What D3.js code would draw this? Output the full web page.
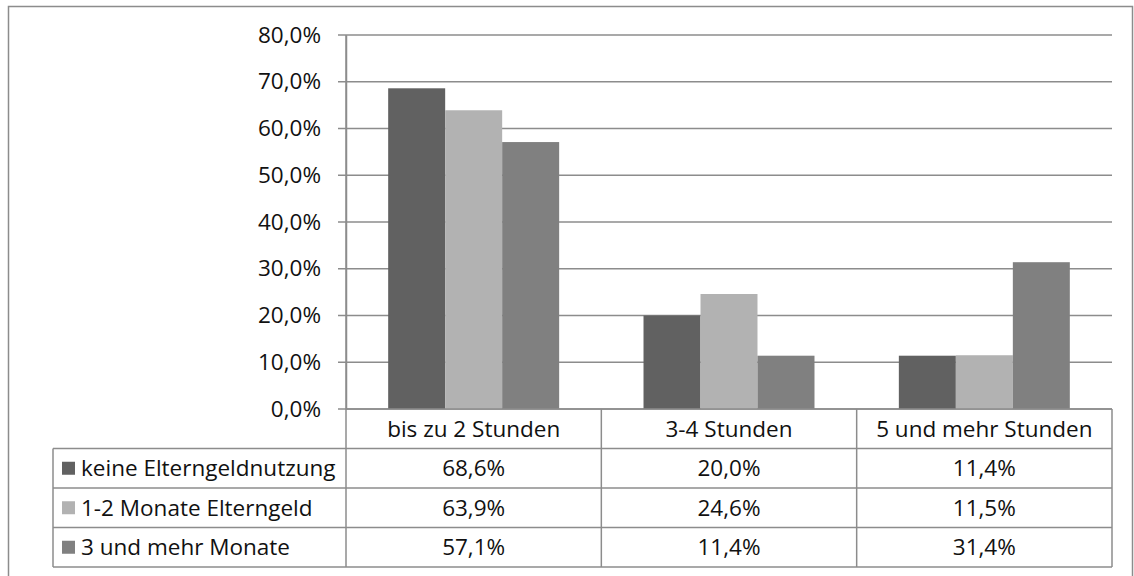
<!DOCTYPE html>
<html>
<head>
<meta charset="utf-8">
<script src="https://cdn.jsdelivr.net/npm/d3@7"></script>
<style>
  body { margin: 0; background: #fff; }
  svg { display: block; font-family: "Open Sans", sans-serif; }
</style>
</head>
<body>
<svg></svg>
<script>
// Kategorien, Reihen und Werte (in Prozent)
const categories = ["bis zu 2 Stunden", "3-4 Stunden", "5 und mehr Stunden"];
const seriesNames = ["keine Elterngeldnutzung", "1-2 Monate Elterngeld", "3 und mehr Monate"];
const keineValues = [68.6, 20.0, 11.4];
const kurzValues = [63.9, 24.6, 11.5];
const langValues = [57.1, 11.4, 31.4];
const yTicks = [0, 10, 20, 30, 40, 50, 60, 70, 80];
const colors = ["#616161", "#b2b2b2", "#808080"];

const seriesValues = [keineValues, kurzValues, langValues];

let width = 1134, height = 576;
let svg = d3.select("svg").attr("width", width).attr("height", height);

let de = d3.formatLocale({decimal: ",", thousands: ".", grouping: [3], currency: ["", " €"]});
let fmt = de.format(".1f");

let plotLeft = 346, plotRight = 1112, plotTop = 35, plotBottom = 409;
let rowH = 39.5, legendLeft = 53;
let lineColor = "#8c8c8c";
let fontSize = 22.5, textColor = "#111";

// Rahmen
svg.append("rect")
  .attr("x", 8.5).attr("y", 6.5)
  .attr("width", 1124).attr("height", 600)
  .attr("fill", "none").attr("stroke", lineColor).attr("stroke-width", 1.5);

let y = d3.scaleLinear().domain([0, 80]).range([plotBottom, plotTop]);
let x0 = d3.scaleBand().domain(categories).range([plotLeft, plotRight]);
let x1 = d3.scaleBand().domain(seriesNames)
  .range([0, x0.bandwidth()]).paddingOuter(0.74).paddingInner(0);

// Gitterlinien
svg.append("g").selectAll("line")
  .data(yTicks)
  .join("line")
  .attr("x1", plotLeft - 8).attr("x2", plotRight)
  .attr("y1", d => y(d)).attr("y2", d => y(d))
  .attr("stroke", lineColor).attr("stroke-width", 1.5);

// y-Achse
let yAxis = d3.axisLeft(y)
  .tickValues(yTicks)
  .tickSize(0)
  .tickPadding(25)
  .tickFormat(d => fmt(d) + "%");
let ya = svg.append("g").attr("transform", `translate(${plotLeft},0)`).call(yAxis);
ya.select(".domain").attr("stroke", lineColor).attr("stroke-width", 1.5);
ya.selectAll("text").attr("font-size", fontSize).attr("fill", textColor)
  .attr("font-family", "Open Sans, sans-serif");

// Balken
svg.append("g").selectAll("g")
  .data(categories)
  .join("g")
  .attr("transform", d => `translate(${x0(d)},0)`)
  .selectAll("rect")
  .data((c, i) => seriesNames.map((s, j) => ({s: s, j: j, v: seriesValues[j][i]})))
  .join("rect")
  .attr("x", d => x1(d.s))
  .attr("width", x1.bandwidth())
  .attr("y", d => y(d.v))
  .attr("height", d => y(0) - y(d.v))
  .attr("fill", d => colors[d.j]);

// Datentabelle
let table = svg.append("g");
let tableBottom = plotBottom + rowH * 4;
let lineStyle = sel => sel.attr("stroke", lineColor).attr("stroke-width", 1.5).attr("fill", "none");

// horizontale Linien
table.append("line").attr("x1", plotLeft).attr("x2", plotRight)
  .attr("y1", plotBottom).attr("y2", plotBottom).call(lineStyle);
for (let r = 1; r <= 4; r++) {
  table.append("line").attr("x1", legendLeft).attr("x2", plotRight)
    .attr("y1", plotBottom + rowH * r).attr("y2", plotBottom + rowH * r).call(lineStyle);
}
// vertikale Linien
table.append("line").attr("x1", legendLeft).attr("x2", legendLeft)
  .attr("y1", plotBottom + rowH).attr("y2", tableBottom).call(lineStyle);
let vx = categories.map(c => x0(c)).concat([plotRight]);
vx.forEach(v => {
  table.append("line").attr("x1", v).attr("x2", v)
    .attr("y1", v === plotLeft ? plotTop : plotBottom).attr("y2", tableBottom).call(lineStyle);
});

// Kopfzeile
table.selectAll(".head")
  .data(categories)
  .join("text")
  .attr("x", d => x0(d) + x0.bandwidth() / 2)
  .attr("y", plotBottom + rowH / 2)
  .attr("dy", "0.35em")
  .attr("text-anchor", "middle")
  .attr("font-size", fontSize).attr("fill", textColor)
  .text(d => d);

// Zeilen
seriesNames.forEach((s, j) => {
  let cy = plotBottom + rowH * (j + 1) + rowH / 2;
  table.append("rect")
    .attr("x", 62).attr("y", cy - 6.5)
    .attr("width", 13).attr("height", 13)
    .attr("fill", colors[j]);
  table.append("text")
    .attr("x", 81).attr("y", cy).attr("dy", "0.35em")
    .attr("font-size", fontSize).attr("fill", textColor)
    .text(s);
  table.selectAll(".v" + j)
    .data(categories)
    .join("text")
    .attr("x", d => x0(d) + x0.bandwidth() / 2)
    .attr("y", cy).attr("dy", "0.35em")
    .attr("text-anchor", "middle")
    .attr("font-size", fontSize).attr("fill", textColor)
    .text((d, i) => fmt(seriesValues[j][i]) + "%");
});
</script>
</body>
</html>
